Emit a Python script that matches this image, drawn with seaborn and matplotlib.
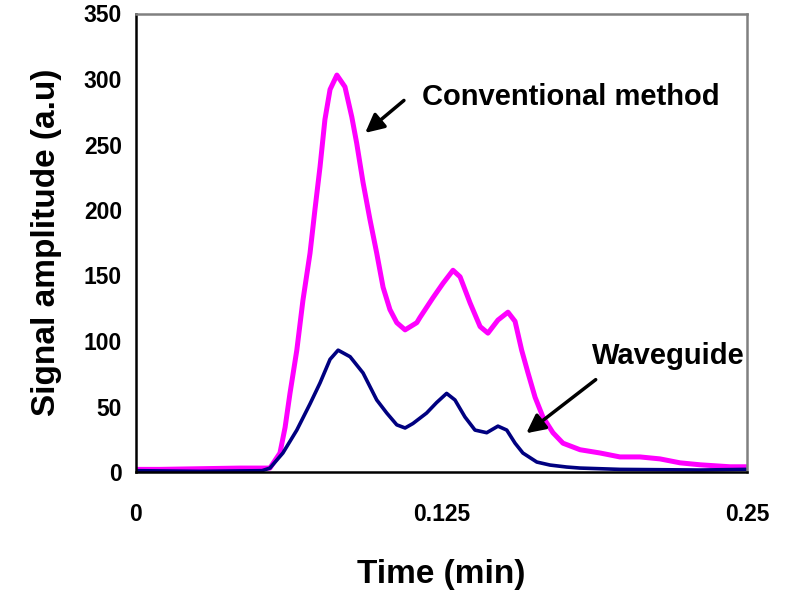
import matplotlib
matplotlib.use("Agg")
import matplotlib.pyplot as plt
from matplotlib.ticker import FixedLocator, FixedFormatter
import seaborn as sns
import pandas as pd

# Conventional method trace (time in min, amplitude in a.u.)
time_conv = [0.0, 0.0098, 0.026, 0.0426, 0.0507, 0.0548, 0.0589, 0.061, 0.063, 0.0658,
             0.0683, 0.0712, 0.0732, 0.0753, 0.0773, 0.0794, 0.0822, 0.0855, 0.0883, 0.0903,
             0.0929, 0.0957, 0.0985, 0.1011, 0.1039, 0.1067, 0.1101, 0.1149, 0.1162, 0.1215,
             0.1256, 0.1297, 0.1326, 0.1367, 0.1408, 0.144, 0.1481, 0.1522, 0.1551, 0.1578,
             0.1604, 0.1633, 0.1665, 0.1706, 0.1747, 0.1817, 0.1899, 0.1980, 0.2062, 0.2144,
             0.2226, 0.2308, 0.2430, 0.2496]
amp_conv = [2, 2, 2.5, 3, 3, 3, 14.5, 34, 60, 93,
            131, 167, 200, 233, 269, 292, 303, 294, 271, 251,
            221, 193, 167, 141, 124, 114, 108.5, 114, 118, 133,
            144, 154, 149, 129, 111, 106, 116, 122, 115, 93,
            75.6, 57, 42, 30, 22, 17, 14.5, 11.5, 11.5, 10,
            7, 5.5, 4, 4]

# Waveguide trace
time_wg = [0.0, 0.026, 0.0516, 0.0548, 0.0601, 0.0658, 0.0712, 0.0753, 0.0794, 0.0827,
           0.0876, 0.0929, 0.0985, 0.1026, 0.1067, 0.1101, 0.1133, 0.1189, 0.123, 0.1271,
           0.1305, 0.1346, 0.1387, 0.1435, 0.1481, 0.1517, 0.1551, 0.1583, 0.164, 0.1694,
           0.1762, 0.1817, 0.198, 0.2308, 0.2496]
amp_wg = [1, 0.5, 1, 3, 14.5, 32, 52, 68, 86, 93,
          88, 75.6, 55, 45, 36, 33.6, 37, 45, 53, 60,
          55, 42, 32, 30, 35, 32, 22, 14.5, 7.6, 5.3,
          3.8, 3, 2, 1.5, 2]

x_ticks = [0, 0.25 / 6, 0.25 / 3, 0.125, 0.25 * 2 / 3, 0.25 * 5 / 6, 0.25]
x_tick_labels = ["0", "", "", "0.125", "", "", "0.25"]
y_ticks = [0, 50, 100, 150, 200, 250, 300, 350]

df_conv = pd.DataFrame({"time": time_conv, "amp": amp_conv})
df_wg = pd.DataFrame({"time": time_wg, "amp": amp_wg})

sns.set_style("white")
plt.rcParams["font.family"] = ["Liberation Sans", "DejaVu Sans"]
plt.rcParams["font.weight"] = "bold"
plt.rcParams["text.color"] = "black"
plt.rcParams["axes.labelcolor"] = "black"
plt.rcParams["xtick.color"] = "black"
plt.rcParams["ytick.color"] = "black"

fig = plt.figure(figsize=(7.85, 5.91), dpi=100)
ax = fig.add_axes([136 / 785, 119 / 591, 611 / 785, 458.5 / 591])

sns.lineplot(data=df_conv, x="time", y="amp", color="#FF00FF", linewidth=3.6, ax=ax)
sns.lineplot(data=df_wg, x="time", y="amp", color="#000080", linewidth=2.6, ax=ax)

ax.set_xlim(0, 0.25)
ax.set_ylim(0, 350)

ax.xaxis.set_major_locator(FixedLocator(x_ticks))
ax.xaxis.set_major_formatter(FixedFormatter(x_tick_labels))
ax.set_yticks(y_ticks)
ax.tick_params(axis="both", direction="in", length=5, width=1.5, color="black",
               labelcolor="black", labelsize=16.5)
ax.tick_params(axis="x", pad=22)
ax.tick_params(axis="y", pad=10)
for lab in ax.get_xticklabels() + ax.get_yticklabels():
    lab.set_fontweight("bold")

# spines: black left/bottom, grey top/right
for side in ["left", "bottom"]:
    ax.spines[side].set_color("black")
    ax.spines[side].set_linewidth(1.8)
for side in ["top", "right"]:
    ax.spines[side].set_color("#808080")
    ax.spines[side].set_linewidth(1.8)

ax.set_xlabel("Time (min)", fontsize=24, fontweight="bold", labelpad=24)
ax.set_ylabel("Signal amplitude (a.u)", fontsize=24, fontweight="bold", labelpad=16)

# annotations with arrows
ax.text(0.117, 286.6, "Conventional method", fontsize=21, fontweight="bold",
        ha="left", va="center")
ax.annotate("", xy=(0.0929, 257.5), xytext=(0.1105, 285),
            arrowprops=dict(arrowstyle="-|>", color="black", lw=2.5, mutation_scale=28))
ax.text(0.1866, 88.6, "Waveguide", fontsize=21, fontweight="bold",
        ha="left", va="center")
ax.annotate("", xy=(0.1588, 28.3), xytext=(0.189, 71.8),
            arrowprops=dict(arrowstyle="-|>", color="black", lw=2.5, mutation_scale=28))

fig.savefig("out.png", dpi=100)
